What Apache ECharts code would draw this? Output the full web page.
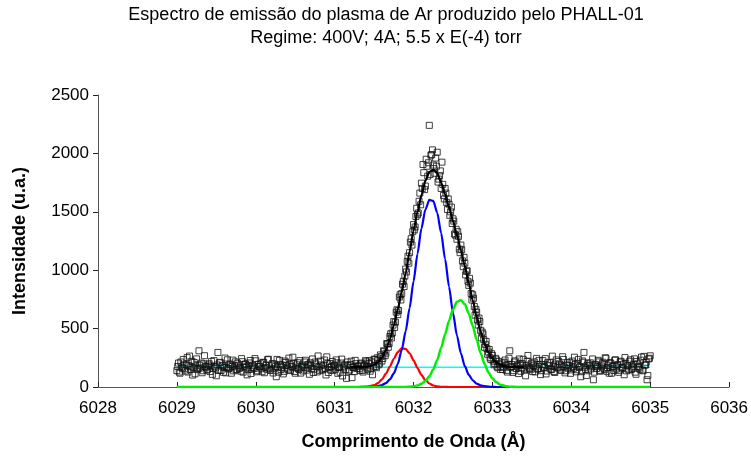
<!DOCTYPE html>
<html>
<head>
<meta charset="utf-8">
<script src="https://cdn.jsdelivr.net/npm/echarts@6/dist/echarts.min.js"></script>
<style>
html,body{margin:0;padding:0;background:#fff;}
#chart{width:751px;height:456px;}
</style>
</head>
<body>
<div id="chart"></div>
<script>
// ---- Data ----
const titleLine1 = 'Espectro de emissão do plasma de Ar produzido pelo PHALL-01';
const titleLine2 = 'Regime: 400V; 4A; 5.5 x E(-4) torr';
const xAxisName = 'Comprimento de Onda (Å)';
const yAxisName = 'Intensidade (u.a.)';

// measured spectrum, two interleaved regular wavelength grids
const waveStep = 0.02;
const waveStartA = 6029.00;
const intensityA = [
  140, 205, 118, 172, 236, 155, 190, 128, 265, 174, 102, 210, 181, 150, 310, 163, 122, 198, 176, 145,
  188, 132, 219, 160, 178, 96, 296, 207, 142, 185, 168, 121, 233, 159, 197, 176, 138, 215, 150, 182,
  164, 243, 127, 191, 170, 148, 206, 116, 186, 158, 224, 139, 175, 199, 131, 212, 167, 153, 238, 144,
  181, 120, 195, 88, 169, 228, 150, 187, 134, 210, 162, 247, 141, 177, 203, 118, 190, 156, 226, 171,
  137, 214, 165, 193, 109, 181, 240, 152, 198, 129, 172, 221, 146, 186, 160, 258, 124, 201, 175, 143,
  189, 232, 117, 166, 205, 95, 178, 149, 214, 136, 192, 80, 170, 228, 158,
  182, 140, 205, 128, 190, 215, 148, 226, 160, 105, 238, 176, 250, 190, 275, 222, 310, 268, 372, 340,
  432, 420, 530, 510, 640, 620, 770, 745, 880, 860, 1010, 1075, 1060, 1240, 1215, 1390, 1370, 1530, 1490, 1660,
  1745, 1905, 1690, 1950, 1805, 2240, 1985, 2030, 1870, 1960, 2010, 1780, 1850, 1925, 1640, 1700, 1580, 1610, 1470, 1540,
  1440, 1310, 1350, 1330, 1180, 1215, 1080, 1110, 960, 995, 870, 890, 745, 760, 615, 640, 530, 560, 420, 455,
  340, 390, 280, 320, 235, 270, 190, 245, 172, 218, 150,
  205, 168, 231, 142, 192, 310, 176, 125, 214, 158, 187, 240, 135, 199, 163, 96, 221, 170, 148, 206,
  182, 129, 245, 157, 193, 140, 226, 171, 112, 208, 186, 152, 264, 133, 197, 165, 219, 144, 178, 236,
  121, 189, 160, 212, 147, 174, 255, 130, 201, 168, 88, 223, 296, 151, 186, 139, 207, 172, 62, 194,
  158, 228, 135, 180, 212, 149, 246, 167, 118, 203, 176, 141, 233, 188, 126, 214, 161, 195, 252, 138,
  183, 220, 150, 172, 241, 109, 198, 164, 230, 145, 262, 188, 62, 240, 267
];
const waveStartB = 6029.01;
const intensityB = [
  176, 128, 214, 161, 195, 137, 252, 183, 149, 220, 166, 113, 241, 158, 187, 205, 139, 268, 170, 152,
  199, 174, 108, 226, 163, 189, 141, 211, 179, 126, 248, 167, 154, 192, 118, 230, 181, 146, 204, 160,
  135, 217, 172, 198, 104, 185, 227, 151, 169, 243, 130, 194, 176, 156, 209, 122, 186, 234, 162, 143,
  201, 157, 174, 236, 127, 192, 168, 112, 222, 184, 147, 196, 173, 255, 133, 164, 208, 150, 119, 188,
  170, 229, 145, 181, 206, 158, 124, 213, 177, 266, 140, 188, 155, 231, 103, 199, 167, 144, 218, 183,
  152, 207, 171, 126, 239, 163, 190, 74, 184, 146, 221, 167, 132, 200, 176,
  156, 198, 142, 181, 226, 163, 201, 135, 214, 172,
  236, 165, 228, 204, 262, 244, 305, 290, 368, 372,
  455, 462, 560, 555, 661, 655, 790, 800, 905, 950,
  985, 1120, 1150, 1270, 1330, 1345, 1460, 1475, 1590, 1560,
  1700, 1835, 1720, 1890, 1920, 1820, 1990, 1900, 1830, 1890,
  1755, 1810, 1700, 1735, 1610, 1660, 1520, 1565, 1500, 1400,
  1420, 1300, 1265, 1290, 1150, 1175, 1030, 1060, 990, 905,
  930, 800, 790, 690, 665, 575, 590, 485, 470, 405,
  365, 330, 300, 250, 285, 222, 200, 232, 165, 195, 176,
  149, 212, 187, 128, 246, 166, 193, 140, 224, 178, 115, 202, 161, 237, 145, 184, 270, 158, 197, 132,
  215, 172, 153, 228, 106, 190, 167, 243, 137, 181, 208, 150, 176, 124, 232, 163, 196, 145, 259, 171,
  139, 207, 184, 117, 222, 160, 193, 148, 236, 175, 131, 212, 169, 98, 203, 182, 155, 240, 127, 188,
  173, 215, 142, 197, 161, 250, 134, 186, 209, 118, 178, 229, 154, 191, 143, 220, 167, 105, 204, 181,
  146, 233, 160, 195, 127, 218, 175, 152, 256, 139, 188, 212, 98, 246
];

// fitted curves
const curveWave = [
  6029.00,
  6031.20, 6031.25, 6031.30, 6031.35, 6031.40, 6031.45, 6031.50, 6031.55, 6031.60, 6031.65,
  6031.70, 6031.75, 6031.80, 6031.85, 6031.90, 6031.95, 6032.00, 6032.05, 6032.10, 6032.15,
  6032.20, 6032.25, 6032.30, 6032.35, 6032.40, 6032.45, 6032.50, 6032.55, 6032.60, 6032.65,
  6032.70, 6032.75, 6032.80, 6032.85, 6032.90, 6032.95, 6033.00, 6033.05, 6033.10, 6033.15,
  6033.20, 6033.25, 6033.30, 6033.35, 6033.40,
  6035.00
];
const fitTotal = [
  170,
  170, 170, 170, 171, 173, 178, 189, 212, 253, 318,
  410, 528, 666, 816, 973, 1160, 1340, 1500, 1640, 1765,
  1840, 1860, 1830, 1750, 1650, 1540, 1420, 1300, 1170, 1035,
  890, 742, 602, 476, 374, 297, 244, 210, 190, 180,
  174, 172, 171, 170, 170,
  170
];
const compRed = [
  0,
  0, 0, 0, 1, 2, 7, 16, 34, 66, 114,
  175, 242, 299, 330, 326, 289, 229, 162, 103, 58,
  30, 13, 5, 2, 1, 0, 0, 0, 0, 0,
  0, 0, 0, 0, 0, 0, 0, 0, 0, 0,
  0, 0, 0, 0, 0,
  0
];
const compBlue = [
  0,
  0, 0, 0, 0, 1, 1, 3, 8, 17, 34,
  65, 116, 197, 316, 476, 676, 905, 1141, 1357, 1519,
  1602, 1593, 1492, 1317, 1095, 858, 634, 441, 289, 178,
  104, 57, 29, 14, 7, 3, 1, 0, 0, 0,
  0, 0, 0, 0, 0,
  0
];
const compGreen = [
  0,
  0, 0, 0, 0, 0, 0, 0, 0, 0, 0,
  0, 0, 0, 0, 1, 3, 6, 13, 27, 51,
  91, 150, 232, 335, 452, 568, 666, 729, 744, 709,
  630, 523, 404, 292, 197, 124, 73, 40, 20, 10,
  4, 2, 1, 0, 0,
  0
];
const baselineWave = [6029.0, 6035.0];
const baselineLevel = [170, 170];

// ---- build pairs for the library ----
const measuredPairs = intensityA.map((v, i) => [waveStartA + i * waveStep, v])
  .concat(intensityB.map((v, i) => [waveStartB + i * waveStep, v]));
const pairs = (xs, ys) => xs.map((x, i) => [x, ys[i]]);

const fontFam = '"Liberation Sans", Arial, sans-serif';
const chart = echarts.init(document.getElementById('chart'), null, {renderer: 'canvas'});

const lineCommon = {
  type: 'line', showSymbol: false, symbol: 'none', smooth: 0.25, smoothMonotone: 'x',
  silent: true, animation: false
};

chart.setOption({
  animation: false,
  backgroundColor: '#ffffff',
  title: {
    text: titleLine1 + '\n' + titleLine2,
    left: 386, top: 4, padding: 0, textAlign: 'center',
    textStyle: {fontFamily: fontFam, fontSize: 18, fontWeight: 'normal', color: '#000', lineHeight: 23}
  },
  grid: {left: 98, right: 21, top: 95, bottom: 68, containLabel: false},
  xAxis: {
    type: 'value', min: 6028, max: 6036, interval: 1,
    name: xAxisName, nameLocation: 'middle', nameGap: 46,
    nameTextStyle: {fontFamily: fontFam, fontSize: 18, fontWeight: 'bold', color: '#000'},
    axisLine: {lineStyle: {color: '#555', width: 1}},
    axisTick: {inside: true, length: 5, lineStyle: {color: '#222'}},
    axisLabel: {fontFamily: fontFam, fontSize: 17, color: '#000', margin: 13, formatter: v => String(v)},
    splitLine: {show: false}
  },
  yAxis: {
    type: 'value', min: 0, max: 2500, interval: 500,
    name: yAxisName, nameLocation: 'middle', nameGap: 69, nameRotate: 90,
    nameTextStyle: {fontFamily: fontFam, fontSize: 18, fontWeight: 'bold', color: '#000'},
    axisLine: {show: true, lineStyle: {color: '#555', width: 1}},
    axisTick: {show: true, inside: false, length: 5, lineStyle: {color: '#222'}},
    axisLabel: {fontFamily: fontFam, fontSize: 17, color: '#000', margin: 9, formatter: v => String(v)},
    splitLine: {show: false}
  },
  series: [
    Object.assign({}, lineCommon, {name: 'base', data: pairs(baselineWave, baselineLevel), smooth: false,
      lineStyle: {color: '#00ffff', width: 1.5}, z: 1}),
    {
      name: 'medido', type: 'scatter', data: measuredPairs, symbol: 'rect', symbolSize: 6,
      itemStyle: {color: 'rgba(255,255,255,0)', borderColor: '#111', borderWidth: 1},
      silent: true, z: 2
    },
    Object.assign({}, lineCommon, {name: 'vermelho', data: pairs(curveWave, compRed),
      lineStyle: {color: '#ff0000', width: 2.2}, z: 3}),
    Object.assign({}, lineCommon, {name: 'azul', data: pairs(curveWave, compBlue),
      lineStyle: {color: '#0000ff', width: 2.2}, z: 3}),
    Object.assign({}, lineCommon, {name: 'ajuste', data: pairs(curveWave, fitTotal).slice(1, -1),
      lineStyle: {color: '#000000', width: 2.2}, z: 4}),
    Object.assign({}, lineCommon, {name: 'verde', data: pairs(curveWave, compGreen),
      lineStyle: {color: '#00ee00', width: 2.5}, z: 5})
  ]
});
</script>
</body>
</html>
